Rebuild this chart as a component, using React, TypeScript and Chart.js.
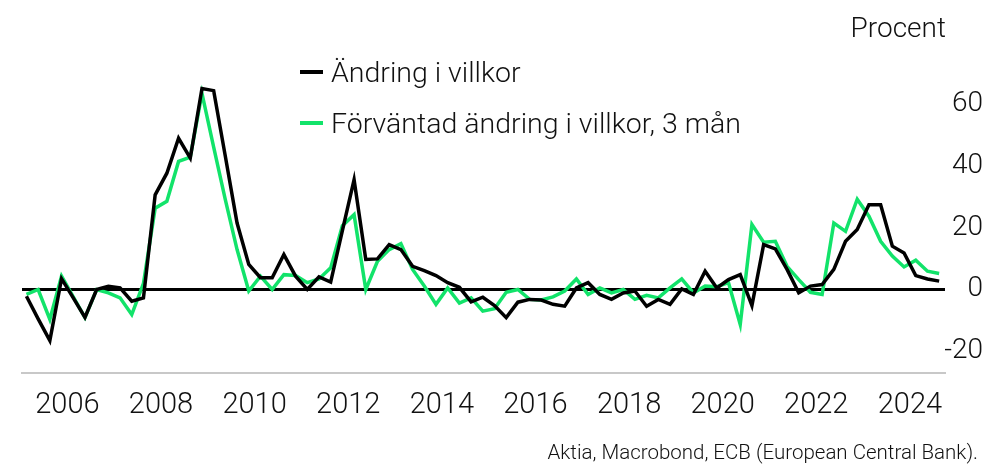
import React, { useEffect, useRef } from "react";
import { Chart, registerables } from "chart.js";

Chart.register(...registerables);

// Quarterly data, 2005 Q3 – 2025 Q1
const FIRST_YEAR = 2005;
const FIRST_QUARTER = 3;

const andringIVillkor = [
  -2.2, -9.5, -16.5, 3.5, -2.7, -9.0, 0.0, 1.0, 0.5, -3.8,
  -2.7, 30.6, 37.6, 48.9, 42.5, 65.0, 64.3, 43.0, 21.5, 8.1,
  3.8, 3.8, 11.3, 4.3, 0.0, 4.1, 2.4, 19.0, 35.5, 9.7,
  9.9, 14.5, 12.9, 7.5, 6.1, 4.5, 2.2, 0.7, -4.0, -2.5,
  -5.2, -9.1, -4.1, -3.2, -3.4, -4.8, -5.4, 0.5, 2.2, -1.6,
  -3.2, -1.1, -0.5, -5.4, -3.2, -4.8, 0.2, -1.6, 5.9, 0.5,
  3.2, 4.8, -5.2, 14.5, 13.1, 6.5, -1.1, 1.1, 1.6, 6.5,
  15.6, 19.4, 27.4, 27.4, 14.0, 11.8, 4.5, 3.4, 2.7,
];

const forvantadAndring = [
  -1.6, 0.0, -9.7, 4.3, -2.4, -9.1, 0.0, -1.1, -2.7, -8.1,
  2.0, 26.3, 28.5, 41.4, 42.8, 63.4, 46.0, 29.0, 12.9, -0.5,
  4.3, 0.0, 4.8, 4.5, 2.2, 3.4, 7.0, 20.6, 24.2, 0.0,
  9.1, 12.9, 14.8, 6.5, 1.1, -4.8, 0.5, -4.4, -2.7, -7.0,
  -6.2, -0.9, 0.0, -3.2, -3.4, -2.4, -0.5, 3.4, -1.6, 0.5,
  -1.1, 0.0, -3.2, -1.9, -2.7, 0.5, 3.4, -1.1, 1.1, 0.9,
  2.2, -11.3, 21.0, 15.3, 15.6, 7.5, 3.2, -0.9, -1.6, 21.5,
  18.8, 29.2, 23.7, 15.6, 10.8, 7.3, 9.5, 5.9, 5.2,
];

const yearTicks = [2006, 2008, 2010, 2012, 2014, 2016, 2018, 2020, 2022, 2024];
const valueTicks = [-20, 0, 20, 40, 60];

const seriesNames = ["Ändring i villkor", "Förväntad ändring i villkor, 3 mån"];
const seriesColors = ["#000000", "#12e36a"];
const unitLabel = "Procent";
const sourceText = "Aktia, Macrobond, ECB (European Central Bank).";

// x position of a quarter (middle of the quarter, in decimal years)
const quarterX = (i: number) => {
  const q0 = FIRST_QUARTER - 1 + i;
  return FIRST_YEAR + Math.floor(q0 / 4) + ((q0 % 4) + 0.5) / 4;
};

const FONT = "Roboto, 'Noto Sans', sans-serif";
const TEXT = "#111";

export default function App() {
  const canvasRef = useRef<HTMLCanvasElement | null>(null);

  useEffect(() => {
    if (!canvasRef.current) return;
    const toPoints = (arr: number[]) => arr.map((v, i) => ({ x: quarterX(i), y: v }));
    const chart = new Chart(canvasRef.current, {
      type: "line",
      data: {
        datasets: [
          {
            label: seriesNames[0],
            data: toPoints(andringIVillkor),
            borderColor: seriesColors[0],
            borderWidth: 3.5,
            pointRadius: 0,
            tension: 0,
            borderJoinStyle: "miter",
          },
          {
            label: seriesNames[1],
            data: toPoints(forvantadAndring),
            borderColor: seriesColors[1],
            borderWidth: 3.5,
            pointRadius: 0,
            tension: 0,
            borderJoinStyle: "miter",
          },
        ],
      },
      options: {
        responsive: false,
        animation: false,
        events: [],
        layout: { padding: { left: 22, top: 73, right: 12, bottom: 0 } },
        plugins: { legend: { display: false }, tooltip: { enabled: false } },
        scales: {
          x: {
            type: "linear",
            min: 2005.53,
            max: 2025.25,
            afterBuildTicks: (scale: any) => {
              scale.ticks = yearTicks.map((y) => ({ value: y + 0.5 }));
            },
            afterFit: (scale: any) => {
              scale.height = 91;
            },
            grid: { display: false, drawTicks: false },
            border: { display: true, color: "#c8c8c8", width: 2 },
            ticks: {
              autoSkip: false,
              maxRotation: 0,
              padding: 15,
              color: TEXT,
              font: { family: FONT, size: 29, weight: "300" },
              callback: (v: any) => String(Math.floor(Number(v))),
            },
          },
          y: {
            position: "right",
            min: -27,
            max: 70,
            afterBuildTicks: (scale: any) => {
              scale.ticks = valueTicks.map((v) => ({ value: v }));
            },
            afterFit: (scale: any) => {
              scale.width = 38;
            },
            grid: {
              drawTicks: false,
              color: (ctx: any) => (ctx.tick && ctx.tick.value === 0 ? "#000" : "rgba(0,0,0,0)"),
              lineWidth: 3,
            },
            border: { display: false },
            ticks: {
              padding: 0,
              crossAlign: "far",
              color: TEXT,
              font: { family: FONT, size: 28, weight: "300" },
            },
          },
        },
      },
    } as any);
    return () => chart.destroy();
  }, []);

  const legendItem = (i: number, top: number) => (
    <div
      key={i}
      style={{
        position: "absolute",
        left: 300,
        top: top - 18,
        height: 36,
        display: "flex",
        alignItems: "center",
        whiteSpace: "nowrap",
      }}
    >
      <div style={{ width: 23, height: 3.5, background: seriesColors[i], marginRight: 8 }} />
      <span style={{ fontFamily: FONT, fontSize: 28.5, fontWeight: 300, color: TEXT }}>{seriesNames[i]}</span>
    </div>
  );

  return (
    <div style={{ position: "absolute", left: 0, top: 0, width: 995, height: 464, background: "#fff", overflow: "hidden" }}>
      <canvas ref={canvasRef} width={995} height={464} style={{ position: "absolute", left: 0, top: 0, width: 995, height: 464 }} />
      <div
        style={{
          position: "absolute",
          right: 995 - 946,
          top: 10,
          fontFamily: FONT,
          fontSize: 28,
          fontWeight: 300,
          lineHeight: "36px",
          color: TEXT,
          whiteSpace: "nowrap",
        }}
      >
        {unitLabel}
      </div>
      {legendItem(0, 72)}
      {legendItem(1, 123)}
      <div
        style={{
          position: "absolute",
          right: 995 - 978,
          top: 439,
          fontFamily: FONT,
          fontSize: 20.5,
          fontWeight: 300,
          lineHeight: "26px",
          color: TEXT,
          whiteSpace: "nowrap",
        }}
      >
        {sourceText}
      </div>
    </div>
  );
}
